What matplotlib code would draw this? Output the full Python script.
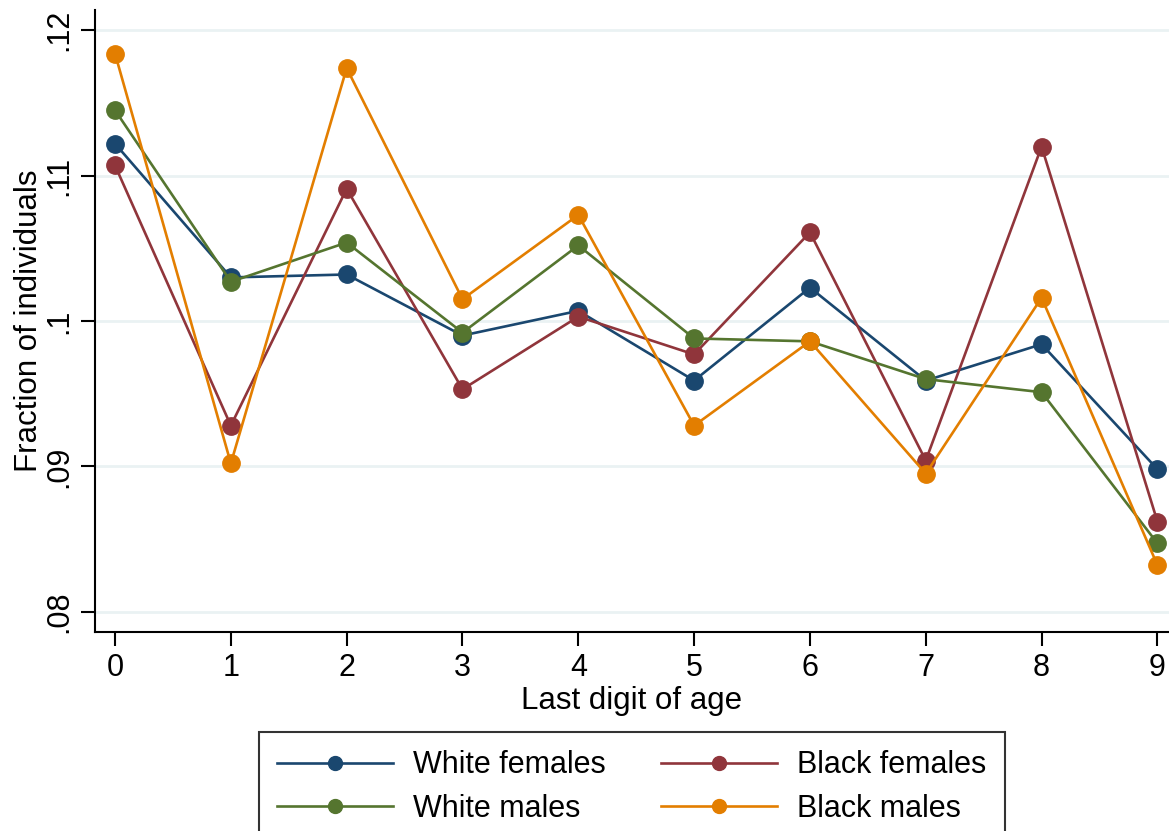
import matplotlib
matplotlib.use("Agg")
import matplotlib.pyplot as plt
from matplotlib.ticker import FuncFormatter

# last digit of age
digits = [0, 1, 2, 3, 4, 5, 6, 7, 8, 9]

# fraction of individuals by group
white_females = [0.1122, 0.1030, 0.1032, 0.0990, 0.1007, 0.0959, 0.1023, 0.0959, 0.0984, 0.0898]
black_females = [0.1107, 0.0928, 0.1091, 0.0953, 0.1003, 0.0977, 0.1061, 0.0904, 0.1120, 0.0862]
white_males   = [0.1145, 0.1027, 0.1054, 0.0992, 0.1052, 0.0988, 0.0986, 0.0960, 0.0951, 0.0847]
black_males   = [0.1184, 0.0902, 0.1174, 0.1015, 0.1073, 0.0928, 0.0986, 0.0895, 0.1016, 0.0832]

y_ticks = [0.08, 0.09, 0.10, 0.11, 0.12]

plt.rcParams['font.family'] = ['Liberation Sans', 'DejaVu Sans']

fig = plt.figure(figsize=(11.69, 8.31), dpi=100)
ax = fig.add_axes([95 / 1169, 1 - 632 / 831, 1 - 95 / 1169, (632 - 10) / 831])

# series in the legend order that gives the two rows
series = [
    (white_females, "White females", "#1a476f"),
    (white_males,   "White males",   "#55752f"),
    (black_females, "Black females", "#90353b"),
    (black_males,   "Black males",   "#e37e00"),
]
lines = {}
for vals, name, col in series:
    lines[name], = ax.plot(digits, vals, color=col, lw=1.9, marker="o", ms=12.5,
                           label=name, zorder=3)

# draw order so orange ends on top like the reference
lines["Black females"].set_zorder(3.1)
lines["White males"].set_zorder(3.2)
lines["Black males"].set_zorder(3.3)

ax.set_xlim(-0.173, 9.10)
ax.set_ylim(0.0786, 0.1214)
ax.set_xticks(digits)
ax.set_yticks(y_ticks)
ax.yaxis.set_major_formatter(FuncFormatter(lambda v, p: ("%.2f" % v).lstrip("0").replace(".10", ".1")))
ax.grid(axis="y", color="#eaf2f3", lw=2, zorder=0)
ax.set_axisbelow(True)

for s in ["top", "right"]:
    ax.spines[s].set_visible(False)
for s in ["left", "bottom"]:
    ax.spines[s].set_linewidth(1.5)

ax.tick_params(axis="both", length=10, width=1.5, labelsize=22, pad=5)
for lab in ax.get_yticklabels():
    lab.set_rotation(90)
    lab.set_va("center")

ax.set_xlabel("Last digit of age", fontsize=22.5, labelpad=2)
ax.set_ylabel("Fraction of individuals", fontsize=22.5, labelpad=0)

leg = fig.legend(handles=[lines[n] for _, n, _ in series], ncol=2,
                 loc="upper left", bbox_to_anchor=(259 / 1169, 1 - 732 / 831),
                 borderaxespad=0, fontsize=22, frameon=True, fancybox=False,
                 handlelength=3.8, handletextpad=0.65, columnspacing=1.8,
                 labelspacing=0.45, borderpad=0.6, markerscale=0.8)
leg.get_frame().set_edgecolor("black")
leg.get_frame().set_linewidth(1.5)

fig.savefig("out.png", dpi=100)
